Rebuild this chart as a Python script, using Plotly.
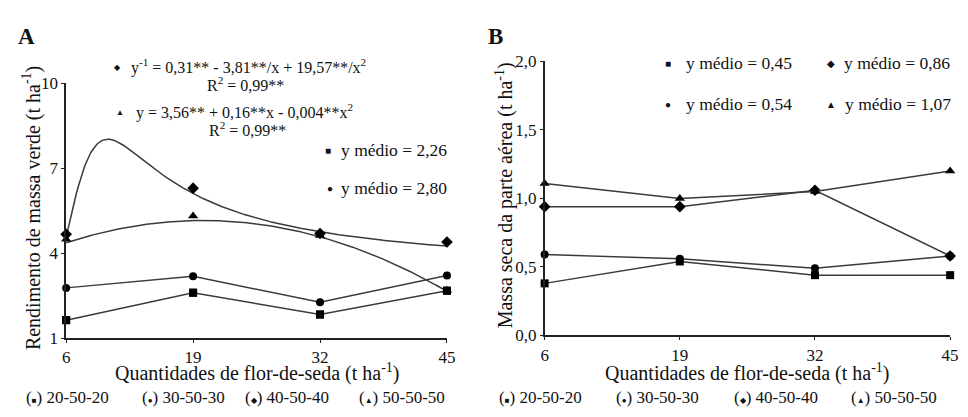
import numpy as np
import plotly.graph_objects as go

# ---------------- data ----------------
doses = [6, 19, 32, 45]
series_names = ["20-50-20", "30-50-30", "40-50-40", "50-50-50"]

# Panel A: Rendimento de massa verde (t/ha)
a_sq = [1.64, 2.61, 1.84, 2.68]
a_ci = [2.78, 3.19, 2.27, 3.22]
a_di = [4.67, 6.30, 4.70, 4.40]
a_tr = [4.50, 5.32, 4.63, 2.70]
# regression coefficients printed on the chart
di_coef = [0.31, -3.81, 19.57]    # 1/y = a + b/x + c/x^2
tr_coef = [3.56, 0.16, -0.004]    # y = a + b x + c x^2

# Panel B: Massa seca da parte aérea (t/ha)
b_sq = [0.38, 0.54, 0.44, 0.44]
b_ci = [0.59, 0.56, 0.49, 0.58]
b_di = [0.94, 0.94, 1.06, 0.58]
b_tr = [1.11, 1.00, 1.05, 1.20]

a_yticks = [1, 4, 7, 10]
b_yticks = [0.0, 0.5, 1.0, 1.5, 2.0]
b_yticklabels = ["0,0", "0,5", "1,0", "1,5", "2,0"]

# ---------------- figure ----------------
W, H = 968, 417
FONT = "Times New Roman, Liberation Serif, serif"
LINE = "#3a3a3a"
INK = "black"
TXT = "#111"

def px(x):
    return x / W

def py(y):
    return 1 - y / H

fig = go.Figure()

xfit = np.linspace(doses[0], doses[-1], 300)
di_fit = 1.0 / (di_coef[0] + di_coef[1] / xfit + di_coef[2] / xfit**2)
tr_fit = tr_coef[0] + tr_coef[1] * xfit + tr_coef[2] * xfit**2

mk = dict(square=dict(symbol="square", size=8),
          circle=dict(symbol="circle", size=8),
          diamond=dict(symbol="diamond", size=9),
          triangle=dict(symbol="triangle-up", size=9))

# Panel A
fig.add_trace(go.Scatter(x=doses, y=a_sq, mode="lines+markers", xaxis="x", yaxis="y",
                         line=dict(color=LINE, width=1.5),
                         marker=dict(color=INK, **mk["square"]), cliponaxis=False))
fig.add_trace(go.Scatter(x=doses, y=a_ci, mode="lines+markers", xaxis="x", yaxis="y",
                         line=dict(color=LINE, width=1.5),
                         marker=dict(color=INK, **mk["circle"]), cliponaxis=False))
fig.add_trace(go.Scatter(x=xfit, y=di_fit, mode="lines", xaxis="x", yaxis="y",
                         line=dict(color=LINE, width=1.5), cliponaxis=False))
fig.add_trace(go.Scatter(x=xfit, y=tr_fit, mode="lines", xaxis="x", yaxis="y",
                         line=dict(color=LINE, width=1.5), cliponaxis=False))
fig.add_trace(go.Scatter(x=doses, y=a_tr, mode="markers", xaxis="x", yaxis="y",
                         marker=dict(color=INK, **mk["triangle"]), cliponaxis=False))
fig.add_trace(go.Scatter(x=doses, y=a_di, mode="markers", xaxis="x", yaxis="y",
                         marker=dict(color=INK, **mk["diamond"]), cliponaxis=False))
fig.add_trace(go.Scatter(x=doses, y=a_sq, mode="markers", xaxis="x", yaxis="y",
                         marker=dict(color=INK, **mk["square"]), cliponaxis=False))

# Panel B
for vals, key in [(b_sq, "square"), (b_ci, "circle"), (b_di, "diamond"), (b_tr, "triangle")]:
    fig.add_trace(go.Scatter(x=doses, y=vals, mode="lines+markers", xaxis="x2", yaxis="y2",
                             line=dict(color=LINE, width=1.5),
                             marker=dict(color=INK, **mk[key]), cliponaxis=False))

axis_common = dict(showgrid=False, zeroline=False, showline=True, linecolor="#222",
                   linewidth=1.6, ticks="outside", ticklen=3, tickwidth=1, tickcolor="#222",
                   tickfont=dict(family=FONT, size=17, color=TXT))

fig.update_layout(
    width=W, height=H, margin=dict(l=0, r=0, t=0, b=0),
    paper_bgcolor="white", plot_bgcolor="white", showlegend=False,
    font=dict(family=FONT, color=TXT),
    xaxis=dict(domain=[px(63), px(449)], range=[6, 45], tickvals=doses,
               anchor="y", **axis_common),
    yaxis=dict(domain=[py(345), py(78)], range=[1, 10], tickvals=a_yticks,
               anchor="x", **axis_common),
    xaxis2=dict(domain=[px(548), px(959)], range=[6, 45], tickvals=doses,
                anchor="y2", **axis_common),
    yaxis2=dict(domain=[py(342), py(55)], range=[0, 2], tickvals=b_yticks,
                ticktext=b_yticklabels, anchor="x2", **axis_common),
)

ann = []

def text(x, y, s, size=16, xanchor="center", angle=0):
    ann.append(dict(x=px(x), y=py(y), xref="paper", yref="paper", text=s,
                    showarrow=False, xanchor=xanchor, yanchor="middle",
                    textangle=angle,
                    font=dict(family=FONT, size=size, color=TXT)))

def sym(ch, size=10):
    return "<span style='font-size:%dpx'>%s</span>" % (size, ch)

# panel letters
text(12, 29, "<b>A</b>", size=23, xanchor="left")
text(489, 29, "<b>B</b>", size=23, xanchor="left")

# axis titles
XT = "Quantidades de flor-de-seda (t ha<sup>-1</sup>)"
text(257, 381, XT, size=20)
text(754, 381, XT, size=20)
text(28, 209, "Rendimento de massa verde (t ha<sup>-1</sup>)", size=20, angle=-90)
text(507, 195, "Massa seca da parte aérea (t ha<sup>-1</sup>)", size=20, angle=-90)

# panel A equations
text(115, 61, "◆", size=8)
text(127, 60, "y<sup>-1</sup> = 0,31** - 3,81**/x + 19,57**/x<sup>2</sup>", size=16, xanchor="left")
text(245, 79, "R<sup>2</sup> = 0,99**", size=16)
text(118, 108, "▲", size=8)
text(132, 107, "y = 3,56** + 0,16**x - 0,004**x<sup>2</sup>", size=16, xanchor="left")
text(247, 126, "R<sup>2</sup> = 0,99**", size=16)
text(328, 148, "■", size=10)
text(340, 148, "y médio = 2,26", size=17.5, xanchor="left")
text(330, 188, "●", size=10)
text(340, 188, "y médio = 2,80", size=17.5, xanchor="left")

# panel B mean labels
text(673, 57, "■", size=10)
text(689, 57, "y médio = 0,45", size=17.5, xanchor="left")
text(838, 57, "◆", size=10)
text(849, 57, "y médio = 0,86", size=17.5, xanchor="left")
text(673, 100, "●", size=10)
text(689, 100, "y médio = 0,54", size=17.5, xanchor="left")
text(838, 100, "▲", size=10)
text(850, 100, "y médio = 1,07", size=17.5, xanchor="left")

# bottom legends
legend_syms = ["■", "●", "◆", "▲"]
a_leg_x = [20, 138, 242, 358]
b_leg_x = [500, 618, 738, 857]
for xs in (a_leg_x, b_leg_x):
    for x0, s, name in zip(xs, legend_syms, series_names):
        text(x0, 407, "(" + sym(s, 8) + ") " + name, size=17, xanchor="left")

fig.update_layout(annotations=ann)
fig.write_html("out.html",
               post_script="document.body.style.margin='0';document.body.style.overflow='hidden';")
